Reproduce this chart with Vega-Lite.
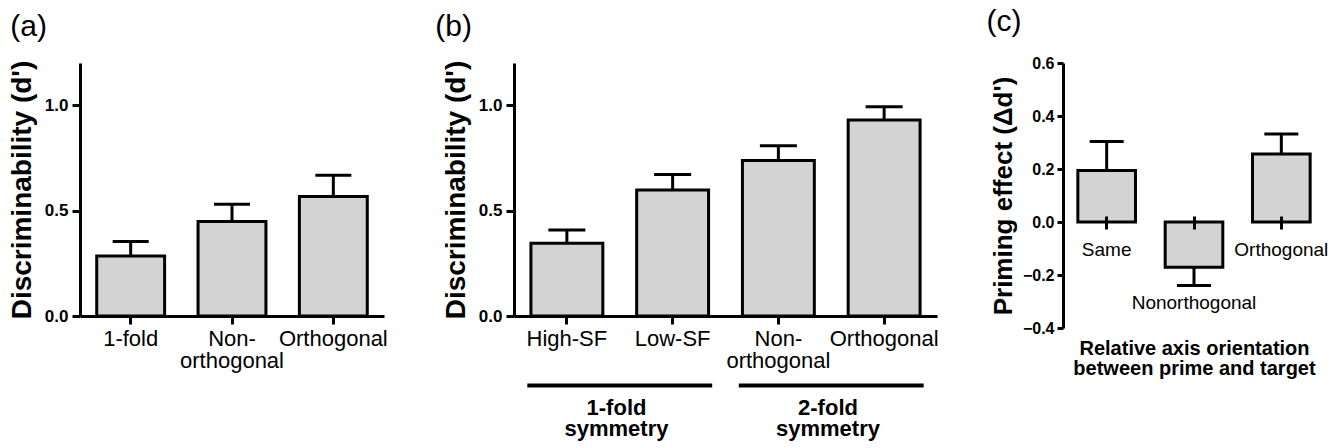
{
  "$schema": "https://vega.github.io/schema/vega-lite/v6.json",
  "padding": {"left": 8, "top": 7, "right": 0, "bottom": 0},
  "spacing": 47,
  "config": {
    "font": "Liberation Sans",
    "view": {"stroke": null},
    "axis": {"domainColor": "black", "domainWidth": 3, "tickColor": "black", "tickWidth": 3, "labelColor": "black", "titleColor": "black", "grid": false},
    "title": {"anchor": "start", "frame": "bounds", "fontSize": 30, "fontWeight": "normal", "color": "black", "offset": 18}
  },
  "hconcat": [
    {
      "title": {"text": "(a)", "dx": 2},
      "width": 304,
      "height": 253,
      "data": {"values": [
        {"cond": "1-fold", "d": 0.285, "err": 0.353},
        {"cond": "Non-orthogonal", "d": 0.448, "err": 0.53},
        {"cond": "Orthogonal", "d": 0.567, "err": 0.668}
      ]},
      "encoding": {
        "x": {"field": "cond", "type": "nominal", "sort": null, "title": null, "scale": {"paddingInner": 0.33, "paddingOuter": 0.165},
          "axis": {"labelAngle": 0, "labelFontSize": 22, "tickSize": 8, "labelPadding": 4, "labelLineHeight": 22,
            "labelExpr": "datum.label == 'Non-orthogonal' ? ['Non-', 'orthogonal'] : datum.label"}}
      },
      "layer": [
        {"mark": {"type": "bar", "fill": "#d3d3d3", "stroke": "black", "strokeWidth": 3},
         "encoding": {"y": {"field": "d", "type": "quantitative", "title": "Discriminability (d')", "scale": {"domain": [0, 1.2]},
           "axis": {"values": [0, 0.5, 1], "format": ".1f", "labelFontSize": 17, "labelFontWeight": "bold", "titleFontSize": 28, "titleFontWeight": "bold", "tickSize": 8, "labelPadding": 4, "titlePadding": 8}}}},
        {"mark": {"type": "rule", "strokeWidth": 3, "color": "black"},
         "encoding": {"y": {"field": "d", "type": "quantitative", "title": "Discriminability (d')"}, "y2": {"field": "err"}}},
        {"mark": {"type": "tick", "thickness": 3, "size": 36, "color": "black", "opacity": 1},
         "encoding": {"y": {"field": "err", "type": "quantitative", "title": "Discriminability (d')"}}}
      ]
    },
    {
      "title": {"text": "(b)", "dx": -7},
      "width": 423,
      "height": 253,
      "layer": [
        {
          "data": {"values": [
            {"cond": "High-SF", "d": 0.345, "err": 0.408},
            {"cond": "Low-SF", "d": 0.598, "err": 0.671},
            {"cond": "Non-orthogonal", "d": 0.738, "err": 0.808},
            {"cond": "Orthogonal", "d": 0.93, "err": 0.992}
          ]},
          "encoding": {
            "x": {"field": "cond", "type": "nominal", "sort": null, "title": null, "scale": {"paddingInner": 0.32, "paddingOuter": 0.16},
              "axis": {"labelAngle": 0, "labelFontSize": 22, "tickSize": 8, "labelPadding": 4, "labelLineHeight": 22,
                "labelExpr": "datum.label == 'Non-orthogonal' ? ['Non-', 'orthogonal'] : datum.label"}}
          },
          "layer": [
            {"mark": {"type": "bar", "fill": "#d3d3d3", "stroke": "black", "strokeWidth": 3},
             "encoding": {"y": {"field": "d", "type": "quantitative", "title": "Discriminability (d')", "scale": {"domain": [0, 1.2]},
               "axis": {"values": [0, 0.5, 1], "format": ".1f", "labelFontSize": 17, "labelFontWeight": "bold", "titleFontSize": 28, "titleFontWeight": "bold", "tickSize": 8, "labelPadding": 4, "titlePadding": 8}}}},
            {"mark": {"type": "rule", "strokeWidth": 3, "color": "black"},
             "encoding": {"y": {"field": "d", "type": "quantitative", "title": "Discriminability (d')"}, "y2": {"field": "err"}}},
            {"mark": {"type": "tick", "thickness": 3, "size": 37, "color": "black", "opacity": 1},
             "encoding": {"y": {"field": "err", "type": "quantitative", "title": "Discriminability (d')"}}}
          ]
        },
        {
          "data": {"values": [
            {"group": "1-fold\nsymmetry", "from": "High-SF", "to": "Low-SF"},
            {"group": "2-fold\nsymmetry", "from": "Non-orthogonal", "to": "Orthogonal"}
          ]},
          "layer": [
            {"mark": {"type": "rule", "strokeWidth": 4, "color": "black"},
             "encoding": {
               "x": {"field": "from", "type": "nominal", "sort": null, "title": null, "bandPosition": -0.05},
               "x2": {"field": "to", "bandPosition": 1.05},
               "y": {"datum": -0.33, "type": "quantitative"}}},
            {"mark": {"type": "text", "fontSize": 22, "fontWeight": "bold", "lineBreak": "\n", "lineHeight": 21, "baseline": "alphabetic", "align": "center", "color": "black"},
             "encoding": {
               "x": {"field": "from", "type": "nominal", "sort": null, "title": null, "bandPosition": 1.19},
               "y": {"datum": -0.47, "type": "quantitative"},
               "text": {"field": "group"}}}
          ]
        }
      ]
    },
    {
      "title": {"text": "(c)", "dx": -4},
      "width": 262,
      "height": 265,
      "data": {"values": [
        {"cond": "Same", "d": 0.194, "err": 0.304},
        {"cond": "Nonorthogonal", "d": -0.171, "err": -0.24},
        {"cond": "Orthogonal", "d": 0.257, "err": 0.332}
      ]},
      "encoding": {
        "x": {"field": "cond", "type": "nominal", "sort": null, "title": ["Relative axis orientation", "between prime and target"], "scale": {"paddingInner": 0.34, "paddingOuter": 0.17},
          "axis": {"titleFontSize": 20, "titleFontWeight": "bold", "titleLineHeight": 20, "titlePadding": 26,
            "labelAngle": 0, "labelFontSize": 19, "labelLineHeight": 53, "domain": false, "offset": -112, "tickSize": 13, "labelPadding": 11, "zindex": 1,
            "labelExpr": "datum.label == 'Nonorthogonal' ? ['\u00a0', 'Nonorthogonal'] : datum.label"}}
      },
      "layer": [
        {"mark": {"type": "bar", "fill": "#d3d3d3", "stroke": "black", "strokeWidth": 3},
         "encoding": {"y": {"field": "d", "type": "quantitative", "title": "Priming effect (Δd')", "scale": {"domain": [-0.4, 0.6]},
           "axis": {"values": [-0.4, -0.2, 0, 0.2, 0.4, 0.6], "format": ".1f", "labelFontSize": 16, "labelFontWeight": "bold", "titleFontSize": 26, "titleFontWeight": "bold", "tickSize": 6, "labelPadding": 3, "titlePadding": 6}}}},
        {"mark": {"type": "rule", "strokeWidth": 3, "color": "black"},
         "encoding": {"y": {"field": "d", "type": "quantitative", "title": "Priming effect (Δd')"}, "y2": {"field": "err"}}},
        {"mark": {"type": "tick", "thickness": 3, "size": 34, "color": "black", "opacity": 1},
         "encoding": {"y": {"field": "err", "type": "quantitative", "title": "Priming effect (Δd')"}}},
        {"mark": {"type": "rule", "strokeWidth": 3, "color": "black"},
         "encoding": {"y": {"datum": 0, "type": "quantitative"}}}
      ]
    }
  ]
}
